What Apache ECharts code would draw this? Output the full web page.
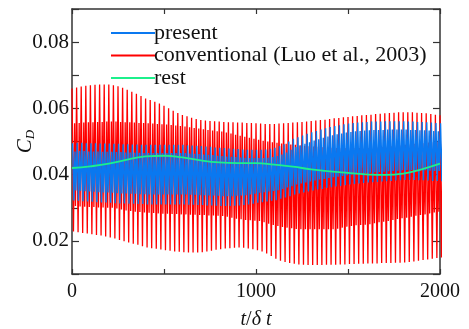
<!DOCTYPE html>
<html><head><meta charset="utf-8">
<script src="https://cdn.jsdelivr.net/npm/echarts@6/dist/echarts.min.js"></script>
<style>html,body{margin:0;padding:0;background:#fff}#c{width:469px;height:329px}</style>
</head><body><div id="c"></div>
<script>
// cycle start times step (time units per oscillation cycle)
const cycleStep = 25;
// sub-cycle time offsets for the extremes inside one cycle
const redPhase = [0, 8, 14, 19];
const bluePhase = [3, 10, 16, 21];

// conventional (Luo et al., 2003): per-cycle extremes
const redMax = [0.0660,0.0663,0.0666,0.0668, 0.0670,0.0671,0.0672,0.0672, 0.0672,0.0670,0.0667,0.0662,
 0.0656,0.0650,0.0644,0.0637, 0.0630,0.0625,0.0620,0.0615, 0.0608,0.0600,0.0593,0.0586,
 0.0580,0.0576,0.0572,0.0568, 0.0565,0.0563,0.0562,0.0561, 0.0560,0.0559,0.0558,0.0558,
 0.0557,0.0557,0.0556,0.0556, 0.0555,0.0554,0.0553,0.0553, 0.0553,0.0554,0.0555,0.0556,
 0.0557,0.0558,0.0559,0.0560, 0.0562,0.0563,0.0565,0.0566, 0.0568,0.0570,0.0571,0.0573,
 0.0574,0.0576,0.0577,0.0579, 0.0580,0.0581,0.0583,0.0584, 0.0585,0.0586,0.0587,0.0588,
 0.0588,0.0588,0.0588,0.0587, 0.0586,0.0585,0.0583,0.0581, 0.0579];
const redMin = [0.0228,0.0226,0.0224,0.0222, 0.0220,0.0218,0.0216,0.0213, 0.0210,0.0207,0.0203,0.0199,
 0.0195,0.0191,0.0188,0.0184, 0.0180,0.0178,0.0176,0.0174, 0.0172,0.0170,0.0168,0.0167,
 0.0166,0.0165,0.0165,0.0165, 0.0166,0.0168,0.0170,0.0173, 0.0175,0.0177,0.0178,0.0179,
 0.0180,0.0179,0.0177,0.0175, 0.0172,0.0168,0.0162,0.0154, 0.0146,0.0140,0.0136,0.0133,
 0.0131,0.0129,0.0128,0.0127, 0.0127,0.0127,0.0127,0.0128, 0.0128,0.0128,0.0129,0.0129,
 0.0130,0.0130,0.0131,0.0131, 0.0132,0.0132,0.0132,0.0133, 0.0133,0.0133,0.0134,0.0134,
 0.0135,0.0136,0.0138,0.0140, 0.0142,0.0144,0.0146,0.0148, 0.0150];
const redHi2 = [0.0555,0.0556,0.0557,0.0558, 0.0558,0.0559,0.0559,0.0560, 0.0560,0.0560,0.0559,0.0558,
 0.0558,0.0557,0.0556,0.0556, 0.0555,0.0554,0.0553,0.0552, 0.0551,0.0550,0.0548,0.0547,
 0.0545,0.0543,0.0541,0.0539, 0.0537,0.0535,0.0533,0.0531, 0.0530,0.0527,0.0524,0.0520,
 0.0517,0.0514,0.0511,0.0508, 0.0505,0.0502,0.0500,0.0498, 0.0496,0.0494,0.0493,0.0491,
 0.0490,0.0488,0.0487,0.0486, 0.0485,0.0484,0.0483,0.0482, 0.0481,0.0480,0.0480,0.0480,
 0.0480,0.0480,0.0480,0.0480, 0.0480,0.0481,0.0482,0.0483, 0.0484,0.0486,0.0487,0.0488,
 0.0490,0.0491,0.0493,0.0494, 0.0495,0.0497,0.0498,0.0499, 0.0500];
const redLo2 = [0.0305,0.0304,0.0303,0.0302, 0.0302,0.0301,0.0301,0.0300, 0.0300,0.0298,0.0295,0.0292,
 0.0290,0.0288,0.0287,0.0286, 0.0285,0.0284,0.0283,0.0282, 0.0282,0.0281,0.0281,0.0280,
 0.0280,0.0279,0.0279,0.0278, 0.0278,0.0277,0.0277,0.0276, 0.0275,0.0273,0.0270,0.0267,
 0.0265,0.0263,0.0262,0.0261, 0.0260,0.0256,0.0252,0.0248, 0.0245,0.0242,0.0240,0.0238,
 0.0236,0.0235,0.0235,0.0235, 0.0235,0.0235,0.0235,0.0235, 0.0235,0.0237,0.0240,0.0243,
 0.0245,0.0247,0.0248,0.0249, 0.0250,0.0253,0.0256,0.0258, 0.0260,0.0263,0.0266,0.0268,
 0.0270,0.0273,0.0276,0.0278, 0.0280,0.0283,0.0286,0.0288, 0.0290];

// present: per-cycle extremes
const blueMax = [0.0495,0.0496,0.0496,0.0495, 0.0495,0.0495,0.0494,0.0494, 0.0494,0.0493,0.0493,0.0492,
 0.0492,0.0491,0.0491,0.0490, 0.0490,0.0490,0.0490,0.0490, 0.0490,0.0490,0.0490,0.0490,
 0.0490,0.0489,0.0488,0.0487, 0.0486,0.0485,0.0484,0.0482, 0.0481,0.0480,0.0479,0.0478,
 0.0477,0.0476,0.0475,0.0475, 0.0475,0.0475,0.0476,0.0478, 0.0481,0.0486,0.0492,0.0500,
 0.0508,0.0513,0.0518,0.0523, 0.0528,0.0532,0.0536,0.0540, 0.0544,0.0547,0.0549,0.0552,
 0.0554,0.0556,0.0557,0.0558, 0.0559,0.0560,0.0560,0.0560, 0.0561,0.0561,0.0561,0.0561,
 0.0561,0.0560,0.0560,0.0559, 0.0559,0.0558,0.0557,0.0556, 0.0555];
const blueMin = [0.0322,0.0321,0.0320,0.0319, 0.0318,0.0317,0.0316,0.0316, 0.0315,0.0314,0.0313,0.0313,
 0.0312,0.0312,0.0311,0.0311, 0.0310,0.0310,0.0310,0.0310, 0.0310,0.0310,0.0310,0.0310,
 0.0310,0.0309,0.0309,0.0308, 0.0308,0.0307,0.0307,0.0306, 0.0305,0.0305,0.0305,0.0306,
 0.0307,0.0308,0.0310,0.0312, 0.0315,0.0317,0.0319,0.0321, 0.0323,0.0327,0.0331,0.0335,
 0.0340,0.0343,0.0346,0.0349, 0.0352,0.0355,0.0357,0.0360, 0.0362,0.0364,0.0366,0.0368,
 0.0370,0.0372,0.0373,0.0375, 0.0376,0.0377,0.0378,0.0379, 0.0380,0.0381,0.0382,0.0383,
 0.0384,0.0384,0.0384,0.0383, 0.0383,0.0382,0.0381,0.0381, 0.0380];
const blueHi2 = [0.0470,0.0471,0.0471,0.0470, 0.0470,0.0470,0.0469,0.0469, 0.0469,0.0468,0.0468,0.0467,
 0.0467,0.0466,0.0466,0.0465, 0.0465,0.0465,0.0465,0.0465, 0.0465,0.0465,0.0465,0.0465,
 0.0465,0.0464,0.0463,0.0462, 0.0461,0.0460,0.0459,0.0457, 0.0456,0.0455,0.0454,0.0453,
 0.0452,0.0451,0.0450,0.0450, 0.0450,0.0450,0.0451,0.0453, 0.0456,0.0461,0.0467,0.0475,
 0.0483,0.0488,0.0493,0.0498, 0.0503,0.0507,0.0511,0.0515, 0.0519,0.0522,0.0524,0.0527,
 0.0529,0.0531,0.0532,0.0533, 0.0534,0.0535,0.0535,0.0535, 0.0536,0.0536,0.0536,0.0536,
 0.0536,0.0535,0.0535,0.0534, 0.0534,0.0533,0.0532,0.0531, 0.0530];
const blueLo2 = [0.0352,0.0351,0.0350,0.0349, 0.0348,0.0347,0.0346,0.0346, 0.0345,0.0344,0.0343,0.0343,
 0.0342,0.0342,0.0341,0.0341, 0.0340,0.0340,0.0340,0.0340, 0.0340,0.0340,0.0340,0.0340,
 0.0340,0.0339,0.0339,0.0338, 0.0338,0.0337,0.0337,0.0336, 0.0335,0.0335,0.0335,0.0336,
 0.0337,0.0338,0.0340,0.0342, 0.0345,0.0347,0.0349,0.0351, 0.0353,0.0357,0.0361,0.0365,
 0.0370,0.0373,0.0376,0.0379, 0.0382,0.0385,0.0387,0.0390, 0.0392,0.0394,0.0396,0.0398,
 0.0400,0.0402,0.0403,0.0405, 0.0406,0.0407,0.0408,0.0409, 0.0410,0.0411,0.0412,0.0413,
 0.0414,0.0414,0.0414,0.0413, 0.0413,0.0412,0.0411,0.0411, 0.0410];

// rest
const restT = [0,100,200,300,400,500,600,700,800,900,1000,1100,1200,1300,1400,1500,1600,1700,1800,1900,2000];
const restV = [0.0420,0.0425,0.0433,0.0445,0.0455,0.0457,0.0452,0.0443,0.0437,0.0435,0.0435,0.0430,0.0424,0.0416,0.0410,0.0405,0.0401,0.0399,0.0403,0.0416,0.0433];

// axis ticks
const xTicks = [0, 1000, 2000];
const yTicks = [0.02, 0.04, 0.06, 0.08];

function buildSeries(phase, a, b, c, d) {
  const out = [];
  for (let i = 0; i < a.length; i++) {
    const t0 = i * cycleStep;
    const vals = [a[i], b[i], c[i], d[i]];
    for (let k = 0; k < 4; k++) out.push([t0 + phase[k], vals[k]]);
  }
  return out;
}
const redData = buildSeries(redPhase, redMax, redMin, redHi2, redLo2);
const blueData = buildSeries(bluePhase, blueMax, blueMin, blueHi2, blueLo2);
const restData = restT.map((t, i) => [t, restV[i]]);

const FONT = 'Liberation Serif';
const axisCol = '#333';
const chart = echarts.init(document.getElementById('c'), null, {renderer: 'canvas'});
chart.setOption({
  animation: false,
  backgroundColor: '#fff',
  grid: {left: 72, right: 29, top: 9, bottom: 55, containLabel: false, outerBoundsMode: 'none'},
  legend: {
    orient: 'vertical', left: 106, top: 17, itemWidth: 44, itemHeight: 2, itemGap: 0.5,
    icon: 'rect',
    textStyle: {fontFamily: FONT, fontSize: 22, lineHeight: 21, color: '#111', padding: [0, 0, 0, -6]},
    data: ['present', 'conventional (Luo et al., 2003)', 'rest']
  },
  xAxis: [{
    type: 'value', min: 0, max: 2000, interval: 500,
    name: '{i|t}/{g|δ}{i| t}', nameLocation: 'middle', nameGap: 36, nameMoveOverlap: false,
    nameTextStyle: {fontFamily: FONT, fontSize: 20, color: '#111', rich: {
      i: {fontFamily: FONT, fontStyle: 'italic', fontSize: 20, color: '#111'},
      g: {fontFamily: FONT, fontStyle: 'italic', fontSize: 20, color: '#111'}}},
    axisLine: {onZero: false, lineStyle: {color: axisCol, width: 1.5}},
    axisTick: {inside: true, length: 5, lineStyle: {color: axisCol, width: 1.2}},
    axisLabel: {fontFamily: FONT, fontSize: 20, color: '#111', margin: 8,
      formatter: v => xTicks.includes(v) ? String(v) : ''},
    splitLine: {show: false}
  }, {
    type: 'value', min: 0, max: 2000, interval: 500, position: 'top',
    axisLine: {onZero: false, lineStyle: {color: axisCol, width: 1.5}},
    axisTick: {inside: true, length: 5, lineStyle: {color: axisCol, width: 1.2}},
    axisLabel: {show: false}, splitLine: {show: false}
  }],
  yAxis: [{
    type: 'value', min: 0.01, max: 0.09, interval: 0.01,
    name: '{c|C}{d|D}', nameLocation: 'middle', nameGap: 35, nameRotate: 90, nameMoveOverlap: false,
    nameTextStyle: {rich: {
      c: {fontFamily: FONT, fontStyle: 'italic', fontSize: 21, color: '#111'},
      d: {fontFamily: FONT, fontStyle: 'italic', fontSize: 13, color: '#111', verticalAlign: 'bottom', padding: [10, 0, 0, 0]}}},
    axisLine: {onZero: false, lineStyle: {color: axisCol, width: 1.5}},
    axisTick: {inside: true, length: 7, lineStyle: {color: axisCol, width: 1.2}},
    axisLabel: {fontFamily: FONT, fontSize: 21, color: '#111', margin: 3,
      formatter: v => { const r = Math.round(v * 100) / 100; return yTicks.some(y => Math.abs(y - v) < 1e-9) ? r.toFixed(2) : ''; }},
    splitLine: {show: false}
  }, {
    type: 'value', min: 0.01, max: 0.09, interval: 0.01, position: 'right',
    axisLine: {onZero: false, lineStyle: {color: axisCol, width: 1.5}},
    axisTick: {inside: true, length: 7, lineStyle: {color: axisCol, width: 1.2}},
    axisLabel: {show: false}, splitLine: {show: false}
  }],
  series: [
    {name: 'conventional (Luo et al., 2003)', type: 'line', data: redData, showSymbol: false, symbol: 'none',
      lineStyle: {color: '#ff0000', width: 1.3}, itemStyle: {color: '#ff0000'}, z: 2},
    {name: 'present', type: 'line', data: blueData, showSymbol: false, symbol: 'none',
      lineStyle: {color: '#0a78f0', width: 1.4}, itemStyle: {color: '#0a78f0'}, z: 3},
    {name: 'rest', type: 'line', data: restData, showSymbol: false, symbol: 'none', smooth: true,
      lineStyle: {color: '#1cf08c', width: 1.8}, itemStyle: {color: '#1cf08c'}, z: 4}
  ]
});
</script></body></html>
